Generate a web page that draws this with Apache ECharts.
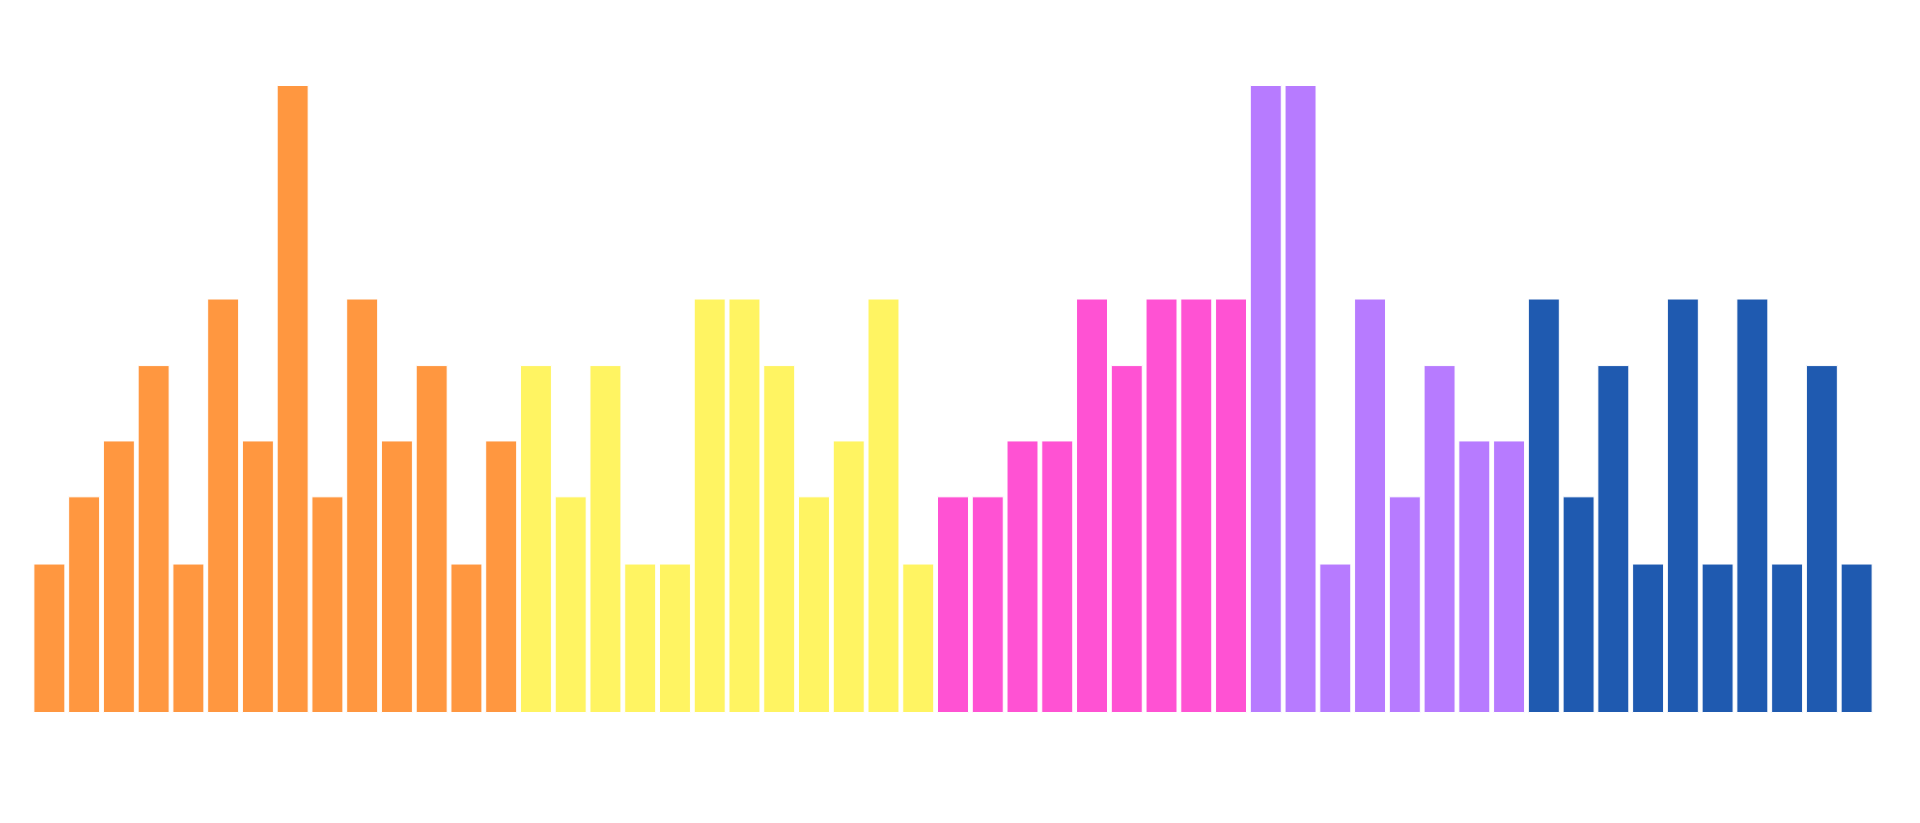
<!DOCTYPE html>
<html>
<head>
<meta charset="utf-8">
<script src="https://cdn.jsdelivr.net/npm/echarts@6/dist/echarts.min.js"></script>
<style>
html,body{margin:0;padding:0;background:#fff;}
#chart{width:1920px;height:823px;}
</style>
</head>
<body>
<div id="chart"></div>
<script>
// Values (no axis shown; scale normalised so tallest bar = 100)
const orangeValues = [23.8, 34.5, 43.4, 55.4, 23.8, 66, 43.4, 100, 34.5, 66, 43.4, 55.4, 23.8, 43.4];
const yellowValues = [55.4, 34.5, 55.4, 23.8, 23.8, 66, 66, 55.4, 34.5, 43.4, 66, 23.8];
const pinkValues   = [34.5, 34.5, 43.4, 43.4, 66, 55.4, 66, 66, 66];
const purpleValues = [100, 100, 23.8, 66, 34.5, 55.4, 43.4, 43.4];
const blueValues   = [66, 34.5, 55.4, 23.8, 66, 23.8, 66, 23.8, 55.4, 23.8];

const groupColors = ['#FF9740', '#FFF462', '#FF52D3', '#B77BFF', '#1F5AB0'];
const groups = [orangeValues, yellowValues, pinkValues, purpleValues, blueValues];

const values = [];
const groupIndex = [];
groups.forEach((g, gi) => g.forEach(v => { values.push(v); groupIndex.push(gi); }));
const categories = values.map((_, i) => String(i + 1));

const chart = echarts.init(document.getElementById('chart'));
chart.setOption({
  animation: false,
  backgroundColor: '#fff',
  grid: { left: 32, right: 46, top: 85, bottom: 110 },
  xAxis: {
    type: 'category',
    data: categories,
    show: false
  },
  yAxis: {
    type: 'value',
    min: 0,
    max: 100,
    show: false
  },
  series: [{
    type: 'bar',
    data: values,
    barCategoryGap: '8%',
    itemStyle: {
      color: p => groupColors[groupIndex[p.dataIndex]],
      borderColor: '#fff',
      borderWidth: 1
    }
  }]
});
</script>
</body>
</html>
